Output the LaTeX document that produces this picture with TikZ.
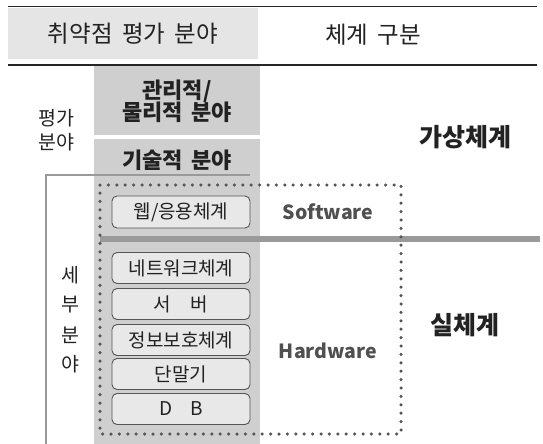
\documentclass[tikz,border=0pt]{standalone}
\usepackage{fontspec}
\setmainfont{Noto Sans CJK KR}
\definecolor{hdrgray}{HTML}{E5E5E5}
\definecolor{colgray}{HTML}{CFCFCF}
\definecolor{boxfill}{HTML}{E8E8E8}
\definecolor{boxline}{HTML}{555555}
\definecolor{midgray}{HTML}{9A9A9A}
\definecolor{txtdark}{HTML}{222222}
\definecolor{txtgray}{HTML}{505050}
\newcommand{\wsp}{\hspace{0.4em}}
\tikzset{
  itembox/.style={draw=boxline, fill=boxfill, rounded corners=5pt, line width=0.9pt,
    minimum width=138pt, minimum height=31pt, inner sep=0pt, text=txtdark,
    font=\fontsize{19}{21}\selectfont},
  hdrtext/.style={text=txtdark, font=\fontsize{23.5}{26}\selectfont},
  boldtext/.style={text=txtdark, font=\fontsize{22}{24}\bfseries\selectfont, align=center},
  bigbold/.style={text=txtdark, font=\fontsize{25}{27}\bfseries\selectfont},
  swtext/.style={text=txtgray, font=\fontsize{19.5}{22}\bfseries\selectfont},
  sidetext/.style={text=txtdark, font=\fontsize{19.5}{24}\selectfont},
  dotline/.style={draw=boxline, line width=3.5pt, line cap=round, dash pattern=on 0pt off 8.4pt},
}
\begin{document}
\begin{tikzpicture}[x=1pt,y=-1pt]
\useasboundingbox (0,0) rectangle (543,444);
% header
\fill[hdrgray] (8,8) rectangle (258,59);
\draw[black!85, line width=1pt] (8,7) -- (537,7);
\draw[black!85, line width=1pt] (8,65) -- (537,65);
\node[hdrtext] (h1) at (133,34) {취약점\wsp 평가\wsp 분야};
\node[hdrtext] (h2) at (373,35) {체계\wsp 구분};
% gray column
\fill[colgray] (94,66) rectangle (260,135);
\fill[colgray] (94,139) rectangle (260,444);
\node[boldtext] (mgmt) at (177,101) {관리적/\\[-2pt]물리적\wsp 분야};
\node[boldtext] (tech) at (177,160) {기술적\wsp 분야};
\node[sidetext, align=center] (eval) at (56,130) {평가\\분야};
% gray bracket line
\coordinate (gl1) at (250,175);
\coordinate (gl2) at (46,175);
\coordinate (gl3) at (46,444);
\draw[midgray, line width=2pt] (gl1) -- (gl2) -- (gl3);
% sub-field text
\node[sidetext] (s1) at (70,275) {세};
\node[sidetext] (s2) at (70,305) {부};
\node[sidetext] (s3) at (70,335) {분};
\node[sidetext] (s4) at (70,364) {야};
% thick separator
\coordinate (t1) at (100,238.5);
\coordinate (t2) at (540,238.5);
\draw[midgray, line width=6pt] (t1) -- (t2);
% dotted rectangle
\coordinate (d1) at (100,185);
\coordinate (d2) at (401,185);
\coordinate (d3) at (401,434);
\coordinate (d4) at (100,434);
\draw[dotline] (d1) -- (d2) -- (d3) -- (d4) -- cycle;
% items
\node[itembox, minimum height=32pt] (web) at (181,212) {웹/응용체계};
\node[itembox] (net) at (181,268) {네트워크체계};
\node[itembox] (srv) at (181,304) {서\hspace{20pt}버};
\node[itembox] (sec) at (181,340) {정보보호체계};
\node[itembox] (term) at (181,374) {단말기};
\node[itembox] (db) at (181,409) {D\hspace{18pt}B};
% labels
\node[swtext] (sw) at (328,212) {Software};
\node[swtext] (hw) at (328,351) {Hardware};
\node[bigbold] (virt) at (465,137) {가상체계};
\node[bigbold] (real) at (465,325) {실체계};
\end{tikzpicture}
\end{document}
